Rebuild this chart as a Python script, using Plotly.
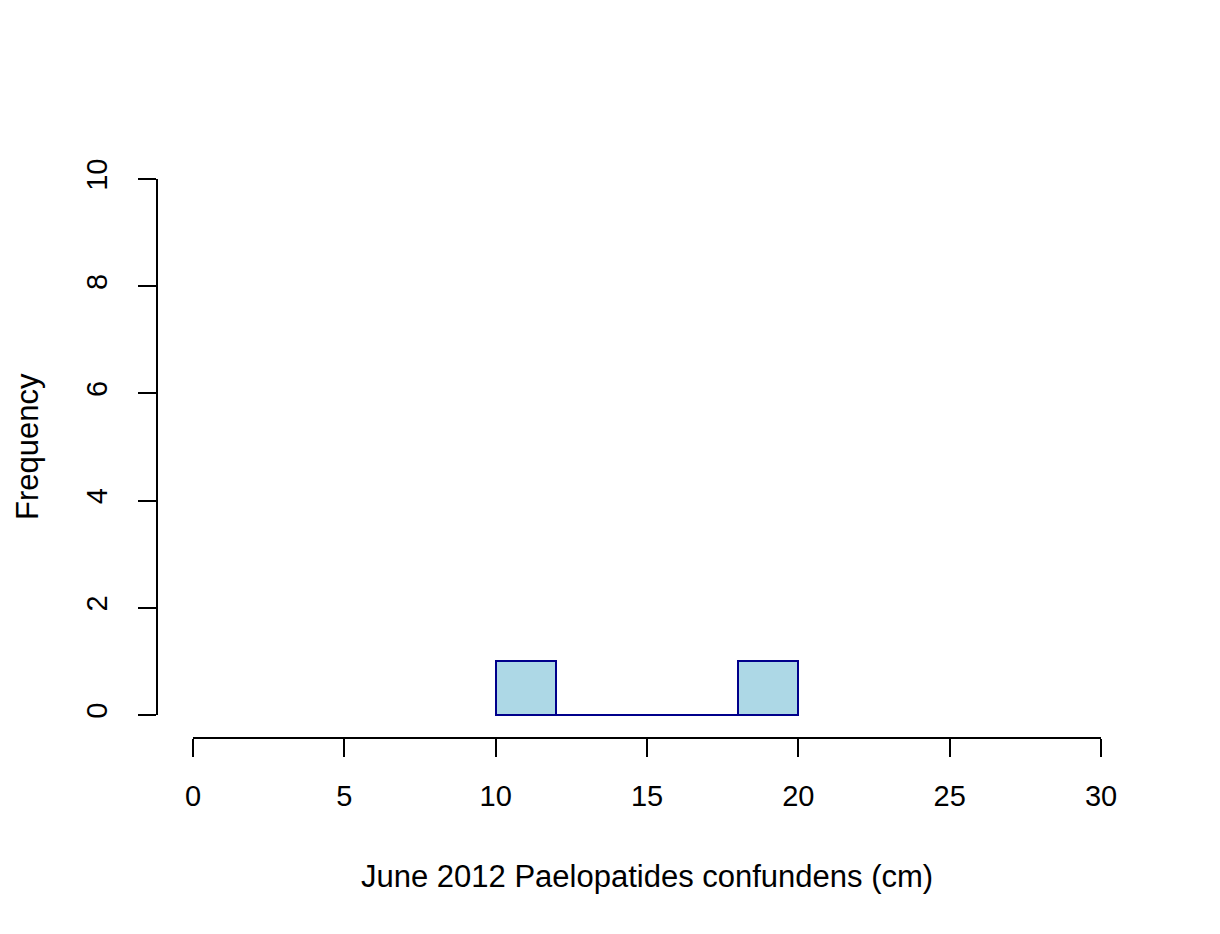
import plotly.graph_objects as go

# Histogram bins (cm) and counts
bin_left = [10, 12, 14, 16, 18]
bin_right = [12, 14, 16, 18, 20]
counts = [1, 0, 0, 0, 1]

x_ticks = [0, 5, 10, 15, 20, 25, 30]
y_ticks = [0, 2, 4, 6, 8, 10]

x_label = 'June 2012 Paelopatides confundens (cm)'
y_label = 'Frequency'

centers = [(a + b) / 2 for a, b in zip(bin_left, bin_right)]
widths = [b - a for a, b in zip(bin_left, bin_right)]

FONT = 'Liberation Sans, Arial, sans-serif'
BAR_FILL = '#ADD8E6'   # lightblue
BAR_EDGE = '#00008B'   # darkblue

fig = go.Figure()

fig.add_trace(go.Bar(
    x=centers,
    y=counts,
    width=widths,
    marker=dict(color=BAR_FILL, line=dict(color=BAR_EDGE, width=2)),
    showlegend=False,
))

# zero-height bins still show as a line along the baseline
fig.add_trace(go.Scatter(
    x=[bin_left[0], bin_right[-1]],
    y=[0, 0],
    mode='lines',
    line=dict(color=BAR_EDGE, width=2),
    showlegend=False,
    hoverinfo='skip',
))

# R-style detached axis lines
fig.add_shape(type='line', xref='paper', yref='y',
              x0=0, x1=0, y0=min(y_ticks), y1=max(y_ticks),
              line=dict(color='black', width=2))
fig.add_shape(type='line', xref='x', yref='paper',
              x0=min(x_ticks), x1=max(x_ticks), y0=0, y1=0,
              line=dict(color='black', width=2))

# axis labels centred on the axis ranges, like R does
x_mid = (min(x_ticks) + max(x_ticks)) / 2
y_mid = (min(y_ticks) + max(y_ticks)) / 2
fig.add_annotation(text=x_label, xref='x', yref='paper', x=x_mid, y=0,
                   xanchor='center', yanchor='middle', yshift=-138,
                   showarrow=False, font=dict(size=31))
fig.add_annotation(text=y_label, xref='paper', yref='y', x=0, y=y_mid,
                   xanchor='center', yanchor='middle', xshift=-130,
                   textangle=-90, showarrow=False, font=dict(size=31))

fig.update_layout(
    width=1220,
    height=934,
    margin=dict(l=149, r=91, t=171, b=204),
    plot_bgcolor='white',
    paper_bgcolor='white',
    font=dict(family=FONT, size=29, color='black'),
    bargap=0,
    xaxis=dict(
        range=[-1.189, 31.189],
        tickvals=x_ticks,
        ticktext=[str(v) for v in x_ticks],
        ticks='outside',
        ticklen=18,
        tickwidth=2,
        tickcolor='black',
        tickfont=dict(size=29),
        showgrid=False,
        zeroline=False,
        showline=False,
        ticklabelstandoff=14,
    ),
    yaxis=dict(
        range=[-0.4291, 10],
        tickvals=y_ticks,
        ticktext=[str(v) for v in y_ticks],
        tickangle=-90,
        ticks='outside',
        ticklen=18,
        tickwidth=2,
        tickcolor='black',
        tickfont=dict(size=29),
        showgrid=False,
        zeroline=False,
        showline=False,
        ticklabelstandoff=19,
    ),
)

fig.write_html('out.html')
